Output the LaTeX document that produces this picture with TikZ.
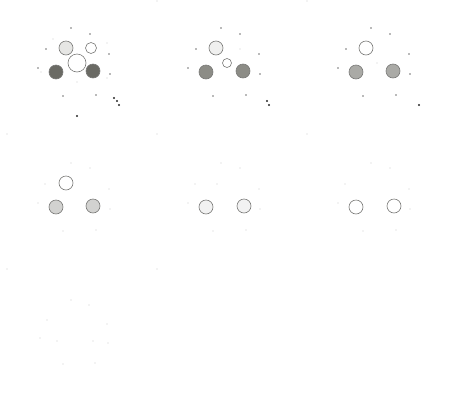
\documentclass[tikz,border=0pt]{standalone}
\usepackage{xcolor}
\usepackage{tikz}
\definecolor{Rim}{HTML}{7A7A78}
\definecolor{Shade1}{HTML}{6A6A64}
\definecolor{Shade2}{HTML}{8C8C86}
\definecolor{Shade3}{HTML}{AAAAA6}
\definecolor{Shade4}{HTML}{D2D2D0}
\definecolor{Shade5}{HTML}{F2F2F2}
\definecolor{Pale}{HTML}{E6E6E4}

\begin{document}
\begin{tikzpicture}[x=1pt, y=-1pt,
  disc/.style={circle, draw=Rim, line width=0.6pt, inner sep=0pt, minimum size=14pt},
  speck/.style={circle, fill=black!55, inner sep=0pt, minimum size=1.6pt},
  dark/.style={circle, fill=black!85, inner sep=0pt, minimum size=2.2pt},
  faint/.style={circle, fill=black!20, inner sep=0pt, minimum size=1.2pt}
]
  \useasboundingbox (0,0) rectangle (450,405);
  % frame 1
  \node[disc, fill=Pale] (a1) at (66,48) {};
  \node[disc, fill=white, minimum size=11pt] (b1) at (91,48) {};
  \node[disc, fill=white, minimum size=18pt] (c1) at (77,63) {};
  \node[disc, fill=Shade1] (l1) at (56,72) {};
  \node[disc, fill=Shade1] (r1) at (93,71) {};
  % frame 2
  \node[disc, fill=Pale!60] (a2) at (216,48) {};
  \node[disc, fill=white, minimum size=9pt] (c2) at (227,63) {};
  \node[disc, fill=Shade2] (l2) at (206,72) {};
  \node[disc, fill=Shade2] (r2) at (243,71) {};
  % frame 3
  \node[disc, fill=white] (a3) at (366,48) {};
  \node[disc, fill=Shade3] (l3) at (356,72) {};
  \node[disc, fill=Shade3] (r3) at (393,71) {};
  % frame 4
  \node[disc, fill=white] (a4) at (66,183) {};
  \node[disc, fill=Shade4] (l4) at (56,207) {};
  \node[disc, fill=Shade4] (r4) at (93,206) {};
  % frame 5
  \node[disc, fill=Shade5] (l5) at (206,207) {};
  \node[disc, fill=Shade5] (r5) at (244,206) {};
  % frame 6
  \node[disc, fill=white] (l6) at (356,207) {};
  \node[disc, fill=white] (r6) at (394,206) {};
  % specks
  \foreach \dx/\dy [count=\i] in {0/0,150/0,300/0}{
    \node[speck] (p\i a) at (71+\dx,28+\dy) {};
    \node[speck] (p\i b) at (90+\dx,34+\dy) {};
    \node[speck] (p\i c) at (46+\dx,49+\dy) {};
    \node[speck] (p\i d) at (109+\dx,54+\dy) {};
    \node[speck] (p\i e) at (38+\dx,68+\dy) {};
    \node[speck] (p\i f) at (110+\dx,74+\dy) {};
    \node[speck] (p\i g) at (63+\dx,96+\dy) {};
    \node[speck] (p\i h) at (96+\dx,95+\dy) {};
  }
  \node[dark] (t1) at (114,98) {};
  \node[dark] (t2) at (117,101) {};
  \node[dark] (t3) at (119,105) {};
  \node[dark] (t4) at (77,116) {};
  \node[dark] (t5) at (267,101) {};
  \node[dark] (t6) at (269,105) {};
  \node[dark] (t7) at (419,105) {};
  \node[faint] (u1) at (53,39) {};
  \node[faint] (u2) at (107,43) {};
  \node[faint] (u3) at (41,72) {};
  \node[faint] (u4) at (107,78) {};
  \node[faint] (u5) at (77,82) {};
  \node[faint] (u6) at (240,49) {};
  \node[faint] (u7) at (377,63) {};
  \foreach \dx [count=\i] in {0,150,300}{
    \node[faint] (q\i a) at (71+\dx,163) {};
    \node[faint] (q\i b) at (90+\dx,168) {};
    \node[faint] (q\i c) at (45+\dx,184) {};
    \node[faint] (q\i d) at (109+\dx,189) {};
    \node[faint] (q\i e) at (38+\dx,203) {};
    \node[faint] (q\i f) at (110+\dx,209) {};
    \node[faint] (q\i g) at (63+\dx,231) {};
    \node[faint] (q\i h) at (96+\dx,230) {};
  }
  \node[faint] (u8) at (217,184) {};
  % frame 7
  \node[faint] (s1) at (71,300) {};
  \node[faint] (s2) at (89,305) {};
  \node[faint] (s3) at (47,320) {};
  \node[faint] (s4) at (107,324) {};
  \node[faint] (s5) at (40,338) {};
  \node[faint] (s6) at (57,341) {};
  \node[faint] (s7) at (93,341) {};
  \node[faint] (s8) at (108,343) {};
  \node[faint] (s9) at (63,364) {};
  \node[faint] (s10) at (95,363) {};
  % corner specks
  \node[faint] (k1) at (157,1) {};
  \node[faint] (k2) at (307,1) {};
  \node[faint] (k3) at (7,134) {};
  \node[faint] (k4) at (157,134) {};
  \node[faint] (k5) at (307,134) {};
  \node[faint] (k6) at (7,269) {};
  \node[faint] (k7) at (157,269) {};
\end{tikzpicture}
\end{document}
